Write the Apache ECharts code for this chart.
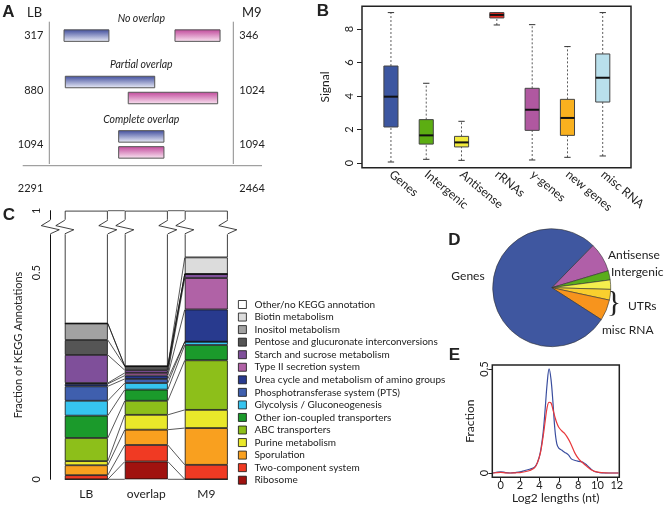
<!DOCTYPE html>
<html>
<head>
<meta charset="utf-8">
<script src="https://cdn.jsdelivr.net/npm/echarts@6/dist/echarts.min.js"></script>
<style>
  html, body { margin: 0; padding: 0; background: #fff; }
  #main { width: 666px; height: 507px; }
</style>
</head>
<body>
<div id="main"></div>
<script>
// ---------- A: LB / M9 transcript overlap ----------
const overlapKinds = ["No overlap", "Partial overlap", "Complete overlap"];
const lbCounts = [317, 880, 1094];
const m9Counts = [346, 1024, 1094];
const totalCounts = [2291, 2464];
// schematic extent of the LB and the M9 transcript (0-100 across the panel)
const lbSpans = [[8, 32.4], [8.7, 57.3], [37.7, 62.3]];
const m9Spans = [[68.3, 92.8], [42.9, 91.5], [37.7, 62.3]];

// ---------- B: signal by class ----------
const boxNames = ["Genes", "Intergenic", "Antisense", "rRNAs", "y-genes", "new genes", "misc RNA"];
const boxLow = [0.06, 0.22, 0.16, 8.24, 0.18, 0.34, 0.42];
const boxQ1 = [2.15, 1.13, 0.96, 8.66, 1.95, 1.65, 3.64];
const boxMedian = [3.96, 1.65, 1.23, 8.84, 3.18, 2.69, 5.09];
const boxQ3 = [5.79, 2.59, 1.59, 8.98, 4.46, 3.8, 6.51];
const boxHigh = [8.98, 4.76, 2.49, 8.98, 8.26, 6.95, 8.98];

// ---------- C: KEGG annotation fractions (bottom of the bar first) ----------
const keggSets = ["LB", "overlap", "M9"];
const keggNames = [
  "Ribosome", "Two-component system", "Sporulation", "Purine metabolism",
  "ABC transporters", "Other ion-coupled transporters", "Glycolysis / Gluconeogenesis",
  "Phosphotransferase system (PTS)", "Urea cycle and metabolism of amino groups",
  "Type II secretion system", "Starch and sucrose metabolism",
  "Pentose and glucuronate interconversions", "Inositol metabolism",
  "Biotin metabolism", "Other/no KEGG annotation"
];
const lbFrac = [0, 0.010, 0.024, 0.010, 0.056, 0.054, 0.036, 0.035, 0.006, 0.002, 0.068, 0.036, 0.040, 0];
const overlapFrac = [0.043, 0.040, 0.037, 0.036, 0.034, 0.027, 0.016, 0.010, 0.008, 0.0065, 0.0065, 0.0097, 0, 0];
const m9Frac = [0, 0.035, 0.089, 0.044, 0.120, 0.037, 0.008, 0, 0.078, 0.076, 0.010, 0, 0, 0.040];

// ---------- D: share of reads ----------
const pieNames = ["Antisense", "Intergenic", "UTRs (5')", "UTRs (3')", "misc RNA", "Genes"];
const pieValues = [8.06, 2.53, 2.56, 2.92, 5.72, 78.21];

// ---------- E: length distributions ----------
const log2Len = [-0.8, 0, 0.5, 1, 1.5, 2, 2.5, 3, 3.5, 3.8, 4.1, 4.4, 4.6, 4.8, 5.0, 5.2, 5.4, 5.6, 5.8, 6.0,
  6.3, 6.6, 7.0, 7.3, 7.7, 8.1, 8.5, 8.9, 9.3, 9.7, 10.2, 10.8, 11.5, 12.2];
const fracBlue = [0, 0.006, 0.002, 0, 0.002, 0.005, 0.012, 0.018, 0.028, 0.05, 0.1, 0.2, 0.31, 0.43, 0.5, 0.45,
  0.34, 0.21, 0.14, 0.12, 0.11, 0.1, 0.087, 0.068, 0.06, 0.056, 0.052, 0.038, 0.02, 0.007, 0.002, 0, 0, 0];
const fracRed = [0, 0.003, 0.001, 0, 0.001, 0.002, 0.006, 0.012, 0.025, 0.05, 0.095, 0.18, 0.25, 0.315, 0.34,
  0.337, 0.305, 0.27, 0.24, 0.22, 0.203, 0.19, 0.163, 0.135, 0.093, 0.065, 0.048, 0.032, 0.017, 0.008, 0.003,
  0.001, 0, 0];

// ---------- styles ----------
const FONT = "Lato";
const INK = "#222";
const boxColors = ["#3c56a0", "#5cae12", "#f2ea3c", "#e8281e", "#b058a0", "#f9b11f", "#b9e0ec"];
const keggColors = ["#a0120f", "#f03a23", "#f9a01f", "#e9e82a", "#8dbf1a", "#1b9a2b", "#36c4ef",
  "#3f5fae", "#283a8e", "#b062a6", "#7f4f9a", "#555555", "#a2a2a2", "#dcdcdc", "#ffffff"];
const pieColors = ["#b05fa8", "#5aad1c", "#f4ee4e", "#f9cf2e", "#f7941d", "#3f57a0"];
const C_BAR_W = 43;
const C_TOP = 0.65;          // the broken axis reaches 1 here
const C_BREAK_TOP = 0.627;
const C_BREAK_BOTTOM = 0.594;

const fracBySet = [lbFrac, overlapFrac, m9Frac];
const cumBySet = fracBySet.map((f) => {
  let s = 0;
  return [0].concat(f.map((v) => (s += v)));
});

function txt(x, y, text, font, align, vAlign) {
  return {
    type: "text", x: x, y: y, silent: true,
    style: {
      text: String(text), font: font, fill: INK,
      align: align || "left", textAlign: align || "left",
      verticalAlign: vAlign || "middle", textVerticalAlign: vAlign || "middle"
    }
  };
}

function grad(top, bottom) {
  return {
    type: "linear", x: 0, y: 0, x2: 0, y2: 1,
    colorStops: [{ offset: 0, color: top }, { offset: 1, color: bottom }]
  };
}

const chart = echarts.init(document.getElementById("main"), null, { renderer: "canvas" });

// connector lines between neighbouring bars of C
const connectorData = [];
for (let b = 0; b < keggSets.length - 1; b++) {
  for (let k = 0; k < keggNames.length; k++) {
    connectorData.push([b, cumBySet[b][k], cumBySet[b + 1][k]]);
  }
  connectorData.push([b, C_TOP, C_TOP]);
}

const keggSeries = keggNames.map((name, k) => ({
  type: "bar", name: name, xAxisIndex: 2, yAxisIndex: 2, stack: "kegg",
  barWidth: C_BAR_W, silent: true,
  data: k < keggNames.length - 1
    ? fracBySet.map((f) => f[k])
    : cumBySet.map((c) => C_TOP - c[c.length - 1]),
  itemStyle: { color: keggColors[k], borderColor: "#111", borderWidth: 0.8 }
}));

const option = {
  animation: false,
  textStyle: { fontFamily: FONT, color: INK },
  grid: [
    { left: 49.3, width: 184, top: 8.4, height: 163.2, outerBoundsMode: "none" },
    { left: 362, width: 269, top: 6.3, height: 161.4, show: true, borderColor: "#222", borderWidth: 1.5,
      backgroundColor: "transparent", outerBoundsMode: "none" },
    { left: 56.3, width: 180, top: 210.7, height: 268.6, outerBoundsMode: "none" },
    { left: 492.3, width: 127, top: 365, height: 112.3, show: true, borderColor: "#222", borderWidth: 1.5,
      backgroundColor: "transparent", outerBoundsMode: "none" }
  ],
  xAxis: [
    { gridIndex: 0, type: "value", min: 0, max: 100, show: false },
    {
      gridIndex: 1, type: "value", min: 0.18, max: 7.8,
      axisLine: { show: false, onZero: false }, axisTick: { show: false }, splitLine: { show: false },
      axisLabel: {
        customValues: [1, 2, 3, 4, 5, 6, 7], formatter: (v) => boxNames[v - 1] || "",
        rotate: -40, align: "left", verticalAlign: "middle",
        fontSize: 12, margin: 5, color: INK, fontFamily: FONT
      }
    },
    {
      gridIndex: 2, type: "category", data: keggSets,
      axisLine: { show: false, onZero: false }, axisTick: { show: false },
      axisLabel: { fontSize: 12, margin: 9, color: INK, fontFamily: FONT }
    },
    {
      gridIndex: 3, type: "value", min: -0.87, max: 12.26,
      axisLine: { show: false, onZero: false }, splitLine: { show: false },
      axisTick: { customValues: [0, 2, 4, 6, 8, 10, 12], length: 4, inside: false, lineStyle: { color: "#222" } },
      axisLabel: { customValues: [0, 2, 4, 6, 8, 10, 12], fontSize: 11, margin: 3, color: INK, fontFamily: FONT },
      name: "Log2 lengths (nt)", nameLocation: "middle", nameGap: 15,
      nameTextStyle: { fontSize: 12, color: INK, fontFamily: FONT }
    }
  ],
  yAxis: [
    { gridIndex: 0, type: "category", data: overlapKinds, inverse: true, show: false },
    {
      gridIndex: 1, type: "value", min: -0.28, max: 9.355,
      axisLine: { show: false, onZero: false }, splitLine: { show: false },
      axisTick: { customValues: [0, 2, 4, 6, 8], length: 5, lineStyle: { color: "#222" } },
      axisLabel: { customValues: [0, 2, 4, 6, 8], rotate: 90, fontSize: 11, margin: 7, color: INK, fontFamily: FONT },
      name: "Signal", nameLocation: "middle", nameGap: 31,
      nameTextStyle: { fontSize: 12, color: INK, fontFamily: FONT }
    },
    {
      gridIndex: 2, type: "value", min: 0, max: C_TOP, offset: 6,
      axisLine: { show: true, onZero: false, lineStyle: { color: "#111", width: 1 } }, splitLine: { show: false },
      axisTick: { customValues: [0, 0.5, C_TOP], length: 7, lineStyle: { color: "#111" } },
      axisLabel: {
        customValues: [0, 0.5, C_TOP], formatter: (v) => (v > 0.6 ? "1" : String(v)),
        rotate: 90, fontSize: 11, margin: 8, color: INK, fontFamily: FONT
      },
      name: "Fraction of KEGG Annotations", nameLocation: "middle", nameGap: 26,
      nameTextStyle: { fontSize: 11, color: INK, fontFamily: FONT }
    },
    {
      gridIndex: 3, type: "value", min: -0.0207, max: 0.519,
      axisLine: { show: false, onZero: false }, splitLine: { show: false },
      axisTick: { customValues: [0, 0.5], length: 4, inside: false, lineStyle: { color: "#222" } },
      axisLabel: { customValues: [0, 0.5], rotate: 90, fontSize: 11, margin: 2, color: INK, fontFamily: FONT },
      name: "Fraction", nameLocation: "middle", nameGap: 16,
      nameTextStyle: { fontSize: 12, color: INK, fontFamily: FONT }
    }
  ],
  legend: {
    orient: "vertical", left: 233, top: 294.5, icon: "rect",
    itemWidth: 8, itemHeight: 8, itemGap: 2.55, selectedMode: false,
    itemStyle: { borderColor: "#111", borderWidth: 0.8 },
    textStyle: { fontSize: 10, lineHeight: 10, color: INK, fontFamily: FONT, padding: [0, 0, 0, 3] },
    data: keggNames.slice().reverse()
  },
  series: [
    // A: transcript schematic
    {
      type: "custom", xAxisIndex: 0, yAxisIndex: 0, silent: true,
      encode: { x: [1, 2, 3, 4], y: 0 },
      data: overlapKinds.map((_, k) => [k, lbSpans[k][0], lbSpans[k][1], m9Spans[k][0], m9Spans[k][1]]),
      renderItem(params, api) {
        const k = api.value(0);
        const px = (v) => api.coord([v, k])[0];
        const cy = api.coord([0, k])[1];
        const sep = k === 0 ? 0 : 8;
        const h = 11.5;
        const bar = (a, b, y, fill) => ({
          type: "rect",
          shape: { x: px(a), y: y - h / 2, width: px(b) - px(a), height: h },
          style: { fill: fill, stroke: "#555", lineWidth: 1 }
        });
        return {
          type: "group",
          children: [
            bar(api.value(1), api.value(2), cy - sep, grad("#3e4b9b", "#eef0fa")),
            bar(api.value(3), api.value(4), cy + sep, grad("#c0479a", "#fbe7f3")),
            txt(px(50), cy - (k === 0 ? 17 : 25), overlapKinds[k], "italic 10.5px " + FONT, "center"),
            txt(px(0) - 6, cy, lbCounts[k], "11px " + FONT, "right"),
            txt(px(100) + 6, cy, m9Counts[k], "11px " + FONT, "left")
          ]
        };
      }
    },
    // B: box plots
    {
      type: "custom", xAxisIndex: 1, yAxisIndex: 1, silent: true,
      encode: { x: 0, y: [1, 2, 3, 4, 5] },
      data: boxNames.map((_, i) => [i + 1, boxLow[i], boxQ1[i], boxMedian[i], boxQ3[i], boxHigh[i]]),
      renderItem(params, api) {
        const x = api.value(0);
        const pt = (d) => api.coord([x, api.value(d)]);
        const lo = pt(1), q1 = pt(2), md = pt(3), q3 = pt(4), hi = pt(5);
        const cx = lo[0];
        const w = api.size([0.4, 0])[0];
        const cap = w * 0.45;
        const dash = { stroke: "#333", lineWidth: 0.8, lineDash: [2, 2] };
        const solid = { stroke: "#333", lineWidth: 1 };
        return {
          type: "group",
          children: [
            { type: "line", shape: { x1: cx, y1: lo[1], x2: cx, y2: q1[1] }, style: dash },
            { type: "line", shape: { x1: cx, y1: q3[1], x2: cx, y2: hi[1] }, style: dash },
            { type: "line", shape: { x1: cx - cap / 2, y1: lo[1], x2: cx + cap / 2, y2: lo[1] }, style: solid },
            { type: "line", shape: { x1: cx - cap / 2, y1: hi[1], x2: cx + cap / 2, y2: hi[1] }, style: solid },
            {
              type: "rect", shape: { x: cx - w / 2, y: q3[1], width: w, height: q1[1] - q3[1] },
              style: { fill: boxColors[params.dataIndex], stroke: "#444", lineWidth: 1 }
            },
            { type: "line", shape: { x1: cx - w / 2, y1: md[1], x2: cx + w / 2, y2: md[1] },
              style: { stroke: "#111", lineWidth: 2 } }
          ]
        };
      }
    },
    // C: stacked KEGG bars
    ...keggSeries,
    // C: connectors between bars
    {
      type: "custom", xAxisIndex: 2, yAxisIndex: 2, silent: true, z: 4,
      encode: { x: 0, y: [1, 2] },
      data: connectorData,
      renderItem(params, api) {
        const b = api.value(0);
        const p1 = api.coord([b, api.value(1)]);
        const p2 = api.coord([b + 1, api.value(2)]);
        return {
          type: "line",
          shape: { x1: p1[0] + C_BAR_W / 2, y1: p1[1], x2: p2[0] - C_BAR_W / 2, y2: p2[1] },
          style: { stroke: "#111", lineWidth: 0.7 }
        };
      }
    },
    // C: zigzag axis breaks
    {
      type: "custom", xAxisIndex: 2, yAxisIndex: 2, silent: true, z: 5,
      encode: { x: 0, y: 1 },
      data: keggSets.map((_, b) => [b, C_BREAK_TOP]),
      renderItem(params, api) {
        const b = api.value(0);
        const top = api.coord([b, C_BREAK_TOP]);
        const bot = api.coord([b, C_BREAK_BOTTOM]);
        const h = bot[1] - top[1];
        const xs = [top[0] - C_BAR_W / 2, top[0] + C_BAR_W / 2];
        if (b === 0) xs.push(top[0] - api.size([1, 0])[0] / 2 - 6);
        const children = [];
        xs.forEach((x) => {
          children.push({
            type: "rect", shape: { x: x - 2, y: top[1] - 0.5, width: 4, height: h + 1 },
            style: { fill: "#fff" }
          });
          children.push({
            type: "polyline",
            shape: { points: [[x, top[1]], [x - 9, top[1] + h * 0.4], [x + 9, top[1] + h * 0.7], [x, bot[1]]] },
            style: { stroke: "#111", lineWidth: 0.8, fill: null }
          });
        });
        return { type: "group", children: children };
      }
    },
    // D: pie
    {
      type: "pie", center: [551.7, 287.7], radius: 59, startAngle: 45.7, clockwise: true,
      silent: true, label: { show: false }, labelLine: { show: false },
      itemStyle: { borderColor: "#333", borderWidth: 0.6 },
      data: pieNames.map((n, i) => ({ name: n, value: pieValues[i], itemStyle: { color: pieColors[i] } }))
    },
    // E: length densities
    {
      type: "line", xAxisIndex: 3, yAxisIndex: 3, silent: true, smooth: 0.35, showSymbol: false,
      data: log2Len.map((x, i) => [x, fracBlue[i]]),
      lineStyle: { color: "#3a4e9f", width: 1.2 }
    },
    {
      type: "line", xAxisIndex: 3, yAxisIndex: 3, silent: true, smooth: 0.35, showSymbol: false,
      data: log2Len.map((x, i) => [x, fracRed[i]]),
      lineStyle: { color: "#e8393c", width: 1.2 }
    }
  ],
  graphic: [
    // panel A frame
    { type: "line", silent: true, shape: { x1: 49.3, y1: 21.7, x2: 49.3, y2: 164 }, style: { stroke: "#8a8a8a", lineWidth: 1 } },
    { type: "line", silent: true, shape: { x1: 233.3, y1: 21.7, x2: 233.3, y2: 164 }, style: { stroke: "#8a8a8a", lineWidth: 1 } },
    { type: "line", silent: true, shape: { x1: 22.7, y1: 165.7, x2: 262, y2: 165.7 }, style: { stroke: "#8a8a8a", lineWidth: 1 } },
    txt(27, 13, "LB", "13px " + FONT, "left"),
    txt(242, 13, "M9", "13px " + FONT, "left"),
    txt(43.3, 188, totalCounts[0], "11px " + FONT, "right"),
    txt(239.3, 188, totalCounts[1], "11px " + FONT, "left"),
    // panel letters
    txt(8.5, 12.5, "A", "bold 17px 'Liberation Sans'", "center"),
    txt(323, 11, "B", "bold 17px 'Liberation Sans'", "center"),
    txt(9, 215, "C", "bold 17px 'Liberation Sans'", "center"),
    txt(454.5, 240, "D", "bold 17px 'Liberation Sans'", "center"),
    txt(454.5, 355, "E", "bold 17px 'Liberation Sans'", "center"),
    // pie annotations
    txt(468, 276, "Genes", "12px " + FONT, "center"),
    txt(608, 255, "Antisense", "12px " + FONT, "left"),
    txt(611, 272, "Intergenic", "12px " + FONT, "left"),
    txt(614, 303, "}", "30px 'Liberation Serif'", "center"),
    txt(628, 306, "UTRs", "12px " + FONT, "left"),
    txt(602, 330, "misc RNA", "12px " + FONT, "left")
  ]
};

chart.setOption(option);
</script>
</body>
</html>
